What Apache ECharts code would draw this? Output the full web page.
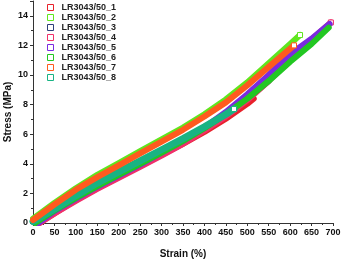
<!DOCTYPE html>
<html><head><meta charset="utf-8">
<script src="https://cdn.jsdelivr.net/npm/echarts@6/dist/echarts.min.js"></script>
<style>html,body{margin:0;padding:0;background:#fff}#c{width:343px;height:259px}</style>
</head><body><div id="c"></div>
<script>
var seriesNames = ["LR3043/50_1","LR3043/50_2","LR3043/50_3","LR3043/50_4","LR3043/50_5","LR3043/50_6","LR3043/50_7","LR3043/50_8"];
var colors = ["#e8212a","#5fe61e","#2d3f7a","#f0306a","#7a2ae0","#22c722","#ff5a1e","#19b383"];
var xTicks = [0,50,100,150,200,250,300,350,400,450,500,550,600,650,700];
var yTicks = [0,2,4,6,8,10,12,14];

// [strain %, stress MPa]
var s1 = [[14,0],[50,0.65],[100,1.55],[150,2.35],[200,3.1],[250,3.85],[300,4.6],[350,5.35],[400,6.15],[450,7.05],[500,8.05],[515,8.4]];
var s2 = [[0,0.3],[50,1.35],[100,2.35],[150,3.25],[200,4.05],[250,4.85],[300,5.65],[350,6.45],[400,7.35],[450,8.35],[500,9.5],[550,10.8],[600,12.1],[623,12.7]];
var s3 = [[10,0],[50,0.8],[100,1.65],[150,2.45],[200,3.2],[250,3.95],[300,4.75],[350,5.55],[400,6.4],[450,7.35],[500,8.4],[550,9.6]];
var s4 = [[16,0],[50,0.65],[100,1.5],[150,2.3],[200,3.05],[250,3.8],[300,4.55],[350,5.35],[400,6.25],[450,7.2],[500,8.3],[550,9.6],[600,11.0],[650,12.4],[695,13.55]];
var s5 = [[12,0],[50,0.8],[100,1.65],[150,2.45],[200,3.2],[250,3.95],[300,4.75],[350,5.55],[400,6.45],[450,7.5],[500,8.7],[550,10.0],[600,11.4],[650,12.45],[692,13.45]];
var s6 = [[5,0],[50,0.85],[100,1.7],[150,2.5],[200,3.25],[250,4.0],[300,4.75],[350,5.55],[400,6.4],[450,7.35],[500,8.4],[550,9.6],[600,10.9],[650,12.1],[690,13.2]];
var s7 = [[0,0.2],[50,1.25],[100,2.25],[150,3.1],[200,3.9],[250,4.7],[300,5.5],[350,6.3],[400,7.2],[450,8.15],[500,9.3],[550,10.55],[609,12.0]];
var s8 = [[0,0.1],[50,0.95],[100,1.85],[150,2.7],[200,3.45],[250,4.2],[300,4.95],[350,5.7],[400,6.5],[450,7.35],[469,7.7]];
var allData = [s1,s2,s3,s4,s5,s6,s7,s8];

var drawOrder = [2,0,3,4,5,1,7,6];
var endMark = [false,true,false,true,false,false,true,true];
var widths = [6,6,6,6,6,6,6,7];

var series = drawOrder.map(function(i){
  var d = allData[i].map(function(p,k,arr){
    if (k === arr.length-1 && endMark[i]) {
      return {value:p, symbol:'rect', symbolSize:5, itemStyle:{color:'#fff',borderColor:colors[i],borderWidth:1}};
    }
    return {value:p, symbol:'none'};
  });
  return {name:seriesNames[i], type:'line', data:d, showSymbol:true, symbol:'none',
    lineStyle:{color:colors[i], width:widths[i], cap:'round', join:'round'},
    itemStyle:{color:colors[i]}, animation:false, z:2+drawOrder.indexOf(i), silent:true};
});

var font = 'Liberation Sans, Arial, sans-serif';
var chart = echarts.init(document.getElementById('c'));
chart.setOption({
  animation:false,
  backgroundColor:'#fff',
  grid:{left:33,right:10,top:1,bottom:36,containLabel:false,outerBoundsMode:'none'},
  legend:{orient:'vertical',left:42,top:-2,itemWidth:6,itemHeight:6,itemGap:1,
    textStyle:{fontSize:9,fontFamily:font,fontWeight:'bold',color:'#222',lineHeight:9,padding:[0,0,0,3]},
    data:seriesNames.map(function(n,i){return {name:n,icon:'rect',itemStyle:{color:'#fff',borderColor:colors[i],borderWidth:1}};})},
  xAxis:{type:'value',min:0,max:700,interval:50,name:'Strain (%)',nameLocation:'middle',nameGap:26,nameMoveOverlap:false,
    nameTextStyle:{fontSize:10,fontWeight:'bold',fontFamily:font,color:'#111'},
    axisLine:{lineStyle:{color:'#333',width:1}},
    axisTick:{inside:false,length:3,lineStyle:{color:'#333'}},
    minorTick:{show:true,splitNumber:2,length:2,lineStyle:{color:'#333'}},
    axisLabel:{fontSize:9,fontWeight:'bold',fontFamily:font,color:'#111',margin:5,
      formatter:function(v){return xTicks.indexOf(v)>=0?String(v):'';}},
    splitLine:{show:false}},
  yAxis:{type:'value',min:0,max:15,interval:2,name:'Stress (MPa)',nameLocation:'middle',nameGap:20,nameMoveOverlap:false,
    nameTextStyle:{fontSize:10,fontWeight:'bold',fontFamily:font,color:'#111'},
    axisLine:{show:true,lineStyle:{color:'#333',width:1}},
    axisTick:{show:true,inside:false,length:3,lineStyle:{color:'#333'}},
    minorTick:{show:true,splitNumber:2,length:2,lineStyle:{color:'#333'}},
    axisLabel:{fontSize:9,fontWeight:'bold',fontFamily:font,color:'#111',margin:5,
      formatter:function(v){return yTicks.indexOf(v)>=0?String(v):'';}},
    splitLine:{show:false}},
  series:series
});
</script></body></html>
